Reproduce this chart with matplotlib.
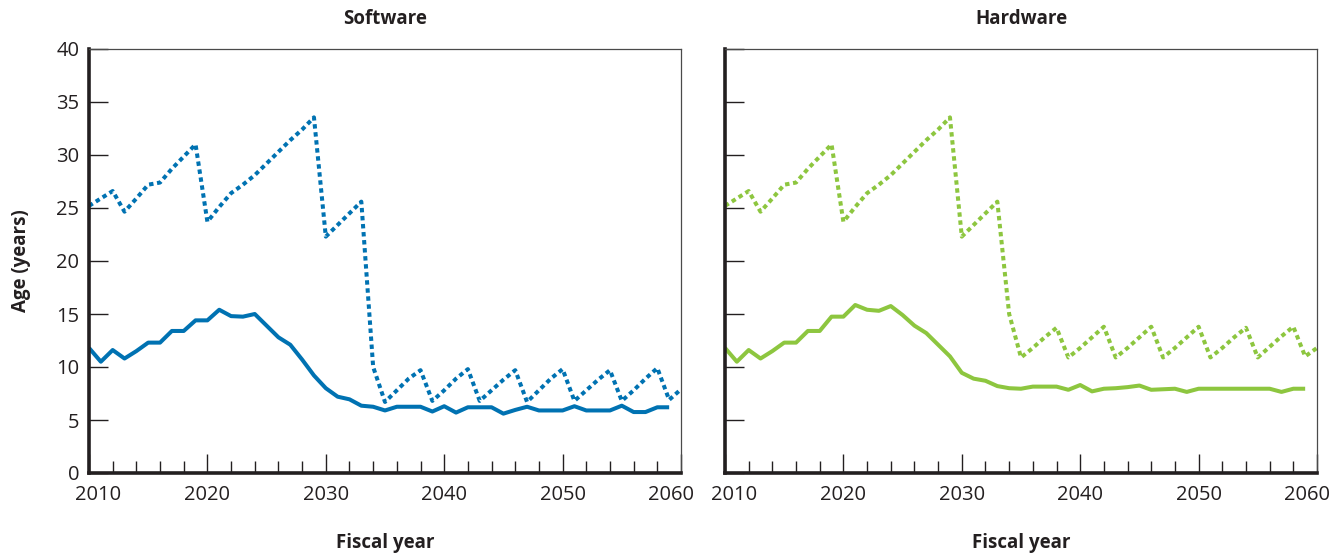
import numpy as np
import matplotlib
matplotlib.use('Agg')
import matplotlib.pyplot as plt
import matplotlib.transforms as mtransforms

plt.rcParams['font.family'] = ['Open Sans', 'DejaVu Sans']

# dados
anos = list(range(2010, 2061))
anos_media = list(range(2010, 2060))

sw_media = [11.8, 10.5, 11.6, 10.8, 11.5, 12.3, 12.3, 13.4, 13.4, 14.4,
            14.4, 15.4, 14.8, 14.75, 15.0, 13.9, 12.8, 12.1, 10.7, 9.2,
            8.0, 7.2, 6.95, 6.35, 6.25, 5.9, 6.25, 6.25, 6.25, 5.8,
            6.3, 5.7, 6.2, 6.2, 6.2, 5.6, 5.95, 6.25, 5.9, 5.9,
            5.9, 6.3, 5.9, 5.9, 5.9, 6.35, 5.75, 5.75, 6.2, 6.2]
sw_max = [25.2, 25.9, 26.6, 24.65, 25.9, 27.2, 27.4, 28.7, 29.85, 31.0,
          23.7, 25.1, 26.4, 27.2, 28.1, 29.2, 30.3, 31.4, 32.4, 33.55,
          22.3, 23.4, 24.5, 25.6, 10.0, 6.7, 7.8, 8.9, 9.7, 6.8,
          7.8, 8.9, 9.8, 6.8, 7.8, 8.8, 9.7, 6.7, 7.8, 8.9,
          9.8, 6.8, 7.8, 8.8, 9.7, 6.8, 7.8, 8.9, 9.9, 6.9,
          7.9]

hw_media = [11.8, 10.5, 11.6, 10.8, 11.5, 12.3, 12.3, 13.4, 13.4, 14.75,
            14.75, 15.85, 15.4, 15.3, 15.75, 14.9, 13.9, 13.2, 12.1, 11.0,
            9.45, 8.9, 8.7, 8.2, 8.0, 7.95, 8.15, 8.15, 8.15, 7.85,
            8.3, 7.7, 7.95, 8.0, 8.1, 8.25, 7.85, 7.9, 7.95, 7.65,
            7.95, 7.95, 7.95, 7.95, 7.95, 7.95, 7.95, 7.65, 7.95, 7.95]
hw_max = [25.2, 25.9, 26.6, 24.65, 25.9, 27.2, 27.4, 28.7, 29.85, 31.0,
          23.7, 25.1, 26.4, 27.2, 28.1, 29.2, 30.3, 31.4, 32.4, 33.55,
          22.3, 23.4, 24.5, 25.6, 15.0, 10.9, 11.8, 12.8, 13.7, 10.9,
          11.8, 12.8, 13.8, 10.9, 11.8, 12.8, 13.8, 10.9, 11.8, 12.8,
          13.8, 10.9, 11.8, 12.8, 13.7, 10.9, 11.9, 12.9, 13.8, 11.0,
          11.8]

azul = '#0072b2'
verde = '#8dc63f'
escuro = '#231f20'

fig = plt.figure(figsize=(13.4, 5.54), dpi=100)
ax1 = fig.add_axes([89 / 1340, 81 / 554, 592 / 1340, 424 / 554])
ax2 = fig.add_axes([725 / 1340, 81 / 554, 592 / 1340, 424 / 554])

paineis = [
    (ax1, 'Software', sw_media, sw_max, azul),
    (ax2, 'Hardware', hw_media, hw_max, verde),
]

for ax, titulo, media, maximo, cor in paineis:
    ax.plot(anos, maximo, color=cor, lw=2.9, linestyle=(0, (1.1, 0.9)),
            dash_capstyle='butt', solid_joinstyle='miter')
    ax.plot(anos_media, media, color=cor, lw=2.9, solid_capstyle='butt')

    ax.set_xlim(2010, 2060)
    ax.set_ylim(0, 40)
    ax.set_xticks(np.arange(2010, 2061, 10))
    ax.set_xticks(np.arange(2010, 2061, 2), minor=True)
    ax.set_yticks(np.arange(0, 41, 5))

    for lado in ['left', 'bottom']:
        ax.spines[lado].set_linewidth(2.6)
        ax.spines[lado].set_color(escuro)
    for lado in ['top', 'right']:
        ax.spines[lado].set_linewidth(0.9)
        ax.spines[lado].set_color('#4a4a4a')

    ax.tick_params(axis='x', which='major', direction='in', length=14,
                   width=1.0, color=escuro, pad=9, labelsize=14.5,
                   labelcolor=escuro)
    ax.tick_params(axis='x', which='minor', direction='in', length=9,
                   width=1.0, color=escuro)
    ax.tick_params(axis='y', direction='in', length=14, width=1.0,
                   color=escuro, pad=7, labelsize=14.5, labelcolor=escuro)

    ax.set_title(titulo, fontsize=13.5, fontweight='bold', color=escuro, pad=18)
    ax.set_xlabel('Fiscal year', fontsize=13.5, fontweight='bold',
                  color=escuro, labelpad=20)

    # desloca os rotulos das pontas para dentro
    rotulos = ax.get_xticklabels()
    rotulos[0].set_transform(rotulos[0].get_transform() +
                             mtransforms.ScaledTranslation(9 / 100, 0, fig.dpi_scale_trans))
    rotulos[-1].set_transform(rotulos[-1].get_transform() +
                              mtransforms.ScaledTranslation(-10 / 100, 0, fig.dpi_scale_trans))

ax1.set_ylabel('Age (years)', fontsize=13.5, fontweight='bold', color=escuro,
               labelpad=18)
ax2.tick_params(axis='y', labelleft=False)

fig.savefig('out.png', dpi=100)
